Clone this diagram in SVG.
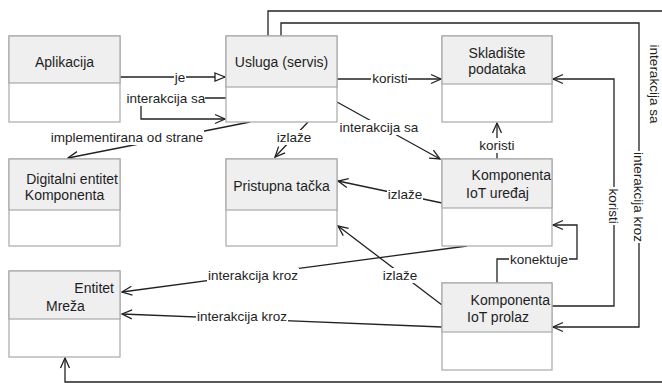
<svg xmlns="http://www.w3.org/2000/svg" width="662" height="383" viewBox="0 0 662 383">
<style>
.box{fill:#fff;stroke:#a8a8a8;stroke-width:1.2}
.hdr{fill:#efefef;stroke:#a8a8a8;stroke-width:1.2}
.nt{font-family:"Liberation Sans",Arial,sans-serif;font-size:14px;fill:#1e1e1e}
.e{fill:none;stroke:#222;stroke-width:1.3}
.lb{fill:#fff}
.lt{font-family:"Liberation Sans",Arial,sans-serif;font-size:13.5px;fill:#1e1e1e;text-anchor:middle}
</style>
<defs>
<marker id="arr" viewBox="-12 -6 13 12" refX="0" refY="0" markerWidth="13" markerHeight="12" orient="auto" markerUnits="userSpaceOnUse">
<path d="M-10,-4.5 L0,0 L-10,4.5" fill="none" stroke="#222" stroke-width="1.3"/>
</marker>
<marker id="tri" viewBox="-12 -6 13 12" refX="0" refY="0" markerWidth="13" markerHeight="12" orient="auto" markerUnits="userSpaceOnUse">
<path d="M-10,-4 L0,0 L-10,4 Z" fill="#fff" stroke="#222" stroke-width="1.3"/>
</marker>
</defs>
<rect width="662" height="383" fill="#fff"/>

<g id="connectors">
<path class="e" d="M120,77 H225" marker-end="url(#tri)"/>
<path class="e" d="M226,98 H141 V119 H225" marker-end="url(#arr)"/>
<path class="e" d="M250,122 L68,158" marker-end="url(#arr)"/>
<path class="e" d="M308,122 L275,157" marker-end="url(#arr)"/>
<path class="e" d="M337,79 H441" marker-end="url(#arr)"/>
<path class="e" d="M337,102 L440,159" marker-end="url(#arr)"/>
<path class="e" d="M497,159 V123" marker-end="url(#arr)"/>
<path class="e" d="M442,203 L338,181" marker-end="url(#arr)"/>
<path class="e" d="M467,246 L122,292" marker-end="url(#arr)"/>
<path class="e" d="M442,305 L338,226" marker-end="url(#arr)"/>
<path class="e" d="M442,327 L122,314" marker-end="url(#arr)"/>
<path class="e" d="M497,283 V259 H577 V225 H553" marker-end="url(#arr)"/>
<path class="e" d="M552,306 H614 V79 H553" marker-end="url(#arr)"/>
<path class="e" d="M281,36 V23 H639 V327 H553" marker-end="url(#arr)"/>
<path class="e" d="M268,36 V11 H672 V382 H65 V358" marker-end="url(#arr)"/>

<rect class="lb" x="174" y="70" width="12" height="15"/>
<text class="lt" x="180" y="81.5">je</text>
<rect class="lb" x="127" y="91" width="78" height="15"/>
<text class="lt" x="166" y="102.5">interakcija sa</text>
<rect class="lb" x="50" y="130" width="154" height="15"/>
<text class="lt" x="127" y="141.5">implementirana od strane</text>
<rect class="lb" x="276" y="130" width="36" height="15"/>
<text class="lt" x="294" y="141.5">izlaže</text>
<rect class="lb" x="371" y="71" width="37" height="15"/>
<text class="lt" x="390" y="82.5">koristi</text>
<rect class="lb" x="339" y="120" width="80" height="15"/>
<text class="lt" x="379" y="131.5">interakcija sa</text>
<rect class="lb" x="478" y="138" width="37" height="15"/>
<text class="lt" x="497" y="149.5">koristi</text>
<rect class="lb" x="387" y="187" width="36" height="15"/>
<text class="lt" x="405" y="198.5">izlaže</text>
<rect class="lb" x="207" y="268" width="92" height="15"/>
<text class="lt" x="253" y="279.5">interakcija kroz</text>
<rect class="lb" x="382" y="268" width="36" height="15"/>
<text class="lt" x="400" y="279.5">izlaže</text>
<rect class="lb" x="196" y="309" width="92" height="15"/>
<text class="lt" x="242" y="320.5">interakcija kroz</text>
<rect class="lb" x="509" y="252" width="60" height="15"/>
<text class="lt" x="539" y="263.5">konektuje</text>
<g transform="translate(613,206) rotate(90)">
<rect class="lb" x="-19" y="-7" width="38" height="14"/>
<text class="lt" x="0" y="4.5">koristi</text>
</g>
<g transform="translate(638,197) rotate(90)">
<rect class="lb" x="-46" y="-7" width="92" height="14"/>
<text class="lt" x="0" y="4.5">interakcija kroz</text>
</g>
<g transform="translate(654,84) rotate(90)">
<rect class="lb" x="-40" y="-7" width="80" height="16"/>
<text class="lt" x="0" y="4.5">interakcija sa</text>
</g>
</g>

<g id="aplikacija">
<rect class="box" x="9" y="36" width="111" height="86"/>
<rect class="hdr" x="9" y="36" width="111" height="47"/>
<text class="nt" x="64.5" y="67" text-anchor="middle">Aplikacija</text>
</g>
<g id="usluga">
<rect class="box" x="226" y="36" width="111" height="86"/>
<rect class="hdr" x="226" y="36" width="111" height="51"/>
<text class="nt" x="281.5" y="67" text-anchor="middle">Usluga (servis)</text>
</g>
<g id="skladiste">
<rect class="box" x="442" y="36" width="110" height="86"/>
<rect class="hdr" x="442" y="36" width="110" height="48"/>
<text class="nt" x="497" y="58" text-anchor="middle">Skladište</text>
<text class="nt" x="497" y="74" text-anchor="middle">podataka</text>
</g>
<g id="digitalni">
<rect class="box" x="9" y="159" width="111" height="87"/>
<rect class="hdr" x="9" y="159" width="111" height="51"/>
<text class="nt" x="118" y="184" text-anchor="end">Digitalni entitet</text>
<text class="nt" x="64.5" y="200" text-anchor="middle">Komponenta</text>
</g>
<g id="pristupna">
<rect class="box" x="226" y="159" width="111" height="87"/>
<rect class="hdr" x="226" y="159" width="111" height="51"/>
<text class="nt" x="281.5" y="191" text-anchor="middle">Pristupna tačka</text>
</g>
<g id="iot-uredjaj">
<rect class="box" x="442" y="159" width="110" height="87"/>
<rect class="hdr" x="442" y="159" width="110" height="49"/>
<text class="nt" x="551" y="180" text-anchor="end">Komponenta</text>
<text class="nt" x="466" y="198">IoT uređaj</text>
</g>
<g id="entitet">
<rect class="box" x="9" y="271" width="111" height="86"/>
<rect class="hdr" x="9" y="271" width="111" height="48"/>
<text class="nt" x="114" y="293" text-anchor="end">Entitet</text>
<text class="nt" x="46" y="311">Mreža</text>
</g>
<g id="iot-prolaz">
<rect class="box" x="442" y="283" width="110" height="87"/>
<rect class="hdr" x="442" y="283" width="110" height="49"/>
<text class="nt" x="550" y="305" text-anchor="end">Komponenta</text>
<text class="nt" x="467" y="322">IoT prolaz</text>
</g>
</svg>
